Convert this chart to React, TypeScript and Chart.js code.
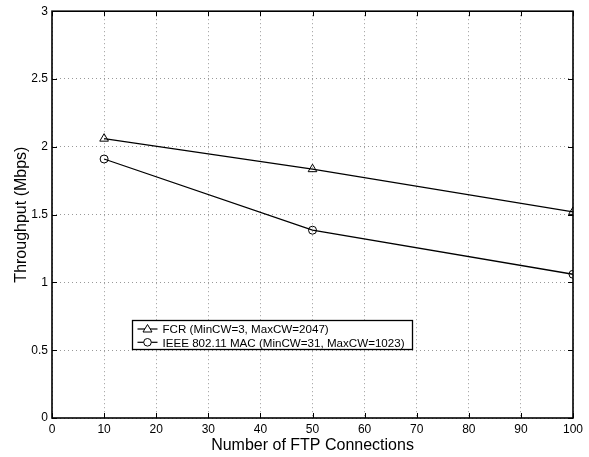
import React, { useEffect, useRef } from "react";
import { Chart, registerables } from "chart.js";

Chart.register(...registerables);

const connections = [10, 50, 100];
const fcrThroughput = [2.06, 1.835, 1.52];
const ieeeThroughput = [1.91, 1.385, 1.06];
const seriesLabels = ["FCR (MinCW=3, MaxCW=2047)", "IEEE 802.11 MAC (MinCW=31, MaxCW=1023)"];
const xTitle = "Number of FTP Connections";
const yTitle = "Throughput (Mbps)";

const FONT = "'Liberation Sans', Arial, Helvetica, sans-serif";

const frameAndLegend = {
  id: "frameAndLegend",
  afterDatasetsDraw(chart: any) {
    const { ctx, chartArea, scales } = chart;
    const { left, right, top, bottom } = chartArea;
    ctx.save();
    ctx.strokeStyle = "#000";
    ctx.lineWidth = 1;
    const tl = 5;
    scales.x.ticks.forEach((t: any) => {
      const px = Math.round(scales.x.getPixelForValue(t.value)) + 0.5;
      ctx.beginPath();
      ctx.moveTo(px, bottom);
      ctx.lineTo(px, bottom - tl);
      ctx.moveTo(px, top);
      ctx.lineTo(px, top + tl);
      ctx.stroke();
    });
    scales.y.ticks.forEach((t: any) => {
      const py = Math.round(scales.y.getPixelForValue(t.value)) + 0.5;
      ctx.beginPath();
      ctx.moveTo(left, py);
      ctx.lineTo(left + tl, py);
      ctx.moveTo(right, py);
      ctx.lineTo(right - tl, py);
      ctx.stroke();
    });
    ctx.lineWidth = 1.6;
    ctx.strokeRect(left, top, right - left, bottom - top);

    // legend box inside the plot
    const w = right - left;
    const h = bottom - top;
    const lx = Math.round(left + w * 0.1526) + 0.5;
    const ly = Math.round(top + h * 0.76) + 0.5;
    const lw = 280;
    const lh = 29;
    ctx.fillStyle = "#fff";
    ctx.fillRect(lx, ly, lw, lh);
    ctx.lineWidth = 1.3;
    ctx.strokeStyle = "#000";
    ctx.strokeRect(lx, ly, lw, lh);
    ctx.font = `11.6px ${FONT}`;
    ctx.textBaseline = "middle";
    ctx.textAlign = "left";
    chart.data.datasets.forEach((ds: any, i: number) => {
      const cy = ly + 8.5 + i * 13.3;
      ctx.lineWidth = 1.2;
      ctx.beginPath();
      ctx.moveTo(lx + 5, cy);
      ctx.lineTo(lx + 25, cy);
      ctx.stroke();
      const mx = lx + 15;
      ctx.lineWidth = 1;
      ctx.beginPath();
      if (ds.pointStyle === "triangle") {
        ctx.moveTo(mx, cy - 4.5);
        ctx.lineTo(mx + 4.5, cy + 3);
        ctx.lineTo(mx - 4.5, cy + 3);
        ctx.closePath();
      } else {
        ctx.arc(mx, cy, 3.8, 0, Math.PI * 2);
      }
      ctx.fillStyle = "#fff";
      ctx.fill();
      ctx.stroke();
      ctx.fillStyle = "#000";
      ctx.fillText(ds.label, lx + 30, cy + 1);
    });
    ctx.restore();
  },
};

export default function App() {
  const ref = useRef<HTMLCanvasElement | null>(null);
  useEffect(() => {
    if (!ref.current) return;
    const chart = new Chart(ref.current, {
      type: "line",
      data: {
        datasets: [
          {
            label: seriesLabels[0],
            data: connections.map((x, i) => ({ x, y: fcrThroughput[i] })),
            borderColor: "#000",
            backgroundColor: "#fff",
            borderWidth: 1.3,
            pointStyle: "triangle",
            pointRadius: 5,
            pointBorderWidth: 1,
            pointBorderColor: "#000",
            pointBackgroundColor: "rgba(255,255,255,0)",
            tension: 0,
          },
          {
            label: seriesLabels[1],
            data: connections.map((x, i) => ({ x, y: ieeeThroughput[i] })),
            borderColor: "#000",
            backgroundColor: "#fff",
            borderWidth: 1.3,
            pointStyle: "circle",
            pointRadius: 4,
            pointBorderWidth: 1,
            pointBorderColor: "#000",
            pointBackgroundColor: "rgba(255,255,255,0)",
            tension: 0,
          },
        ],
      },
      options: {
        animation: false,
        responsive: true,
        maintainAspectRatio: false,
        layout: { padding: { top: 8, right: 16, left: 0, bottom: 0 } },
        plugins: { legend: { display: false }, tooltip: { enabled: false } },
        scales: {
          x: {
            type: "linear",
            min: 0,
            max: 100,
            ticks: { stepSize: 10, color: "#000", font: { family: FONT, size: 12 }, padding: 4, maxRotation: 0 },
            grid: { color: "#999", drawTicks: false, lineWidth: 1 },
            border: { display: false, dash: [1, 3] },
            title: { display: true, text: xTitle, color: "#000", font: { family: FONT, size: 16 }, padding: { top: 0, bottom: 2 } },
            afterFit: (s: any) => { s.height = 39; },
          },
          y: {
            type: "linear",
            min: 0,
            max: 3,
            ticks: {
              stepSize: 0.5,
              color: "#000",
              font: { family: FONT, size: 12 },
              padding: 4,
              callback: (v: any) => String(v),
            },
            grid: { color: "#999", drawTicks: false, lineWidth: 1 },
            border: { display: false, dash: [1, 3] },
            title: { display: true, text: yTitle, color: "#000", font: { family: FONT, size: 16 }, padding: { top: 12, bottom: 0 } },
            afterFit: (s: any) => { s.width = 52; },
          },
        },
      },
      plugins: [frameAndLegend],
    } as any);
    return () => chart.destroy();
  }, []);
  return (
    <div style={{ position: "fixed", left: 0, top: 0, width: 589, height: 457, background: "#fff" }}>
      <canvas ref={ref} />
    </div>
  );
}
